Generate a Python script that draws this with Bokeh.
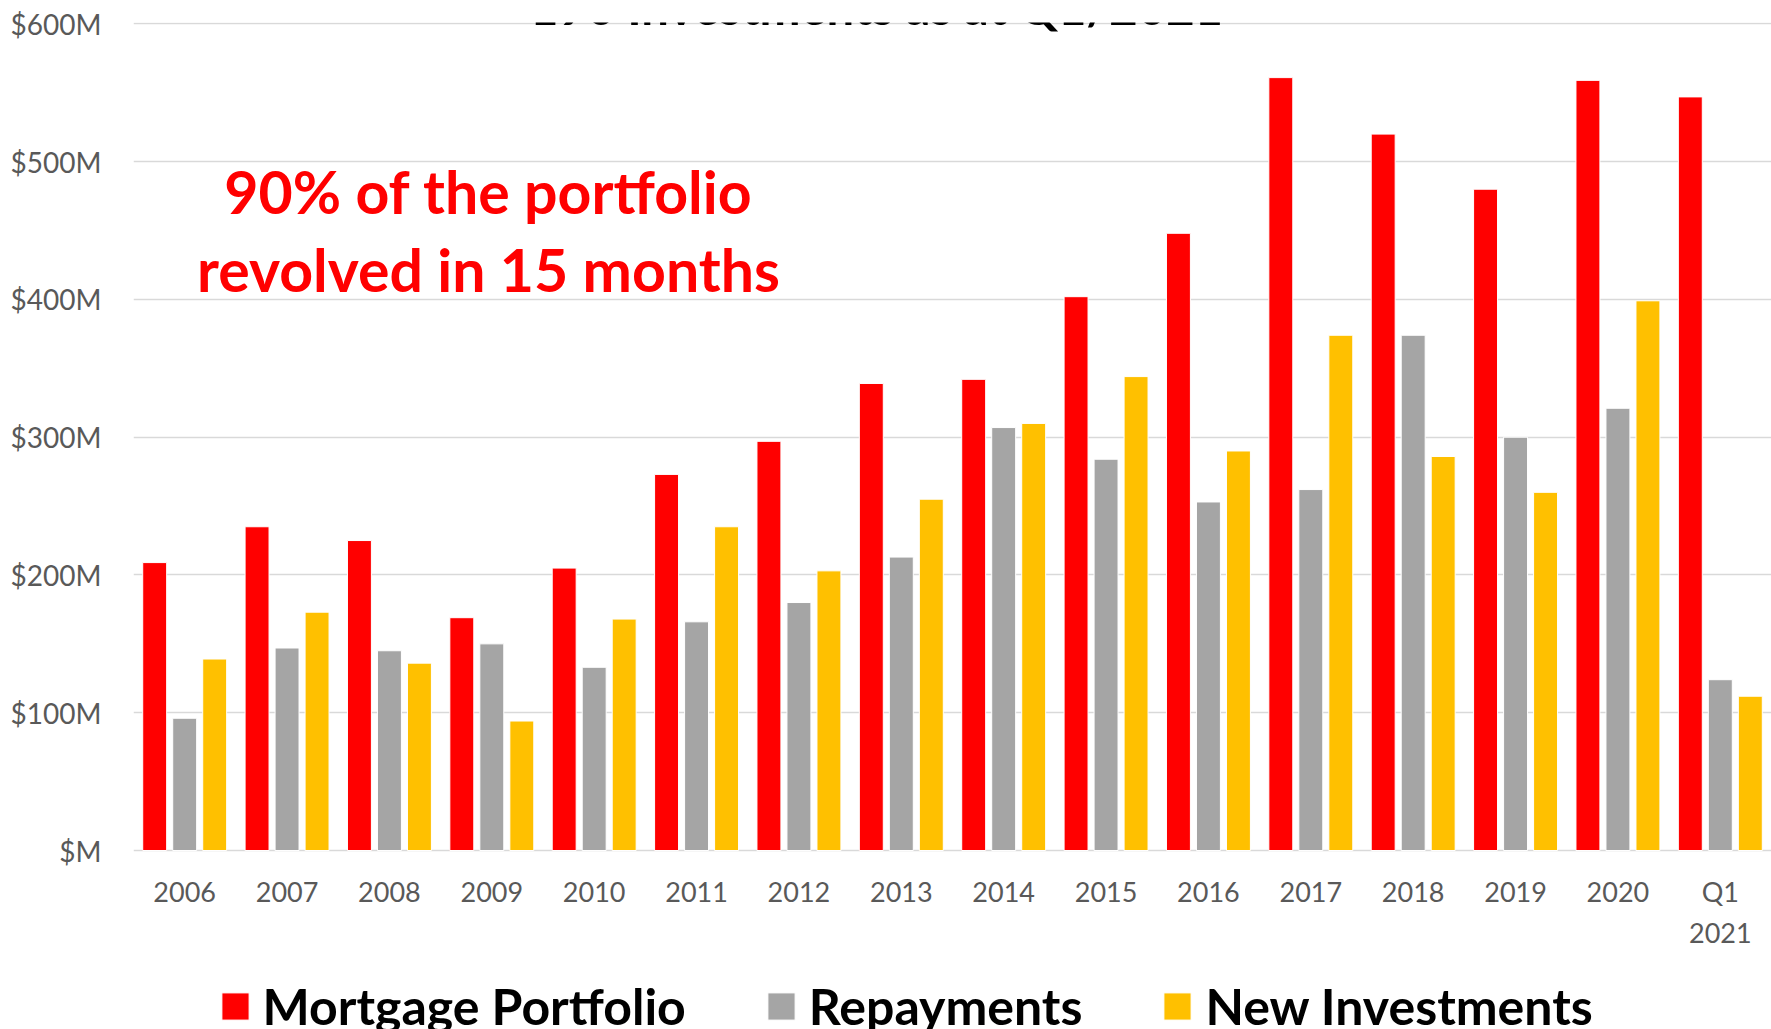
from bokeh.plotting import figure
from bokeh.models import (ColumnDataSource, FactorRange, Range1d, FixedTicker,
                          Label, Legend, LegendItem)
from bokeh.transform import dodge
from bokeh.embed import file_html
from bokeh.resources import INLINE

# ---- data (values in $ millions) ----
categories = ["2006", "2007", "2008", "2009", "2010", "2011", "2012", "2013",
              "2014", "2015", "2016", "2017", "2018", "2019", "2020", "Q1\n2021"]
mortgage_portfolio = [209, 235, 225, 169, 205, 273, 297, 339, 342, 402, 448, 561, 520, 480, 559, 547]
repayments = [96, 147, 145, 150, 133, 166, 180, 213, 307, 284, 253, 262, 374, 300, 321, 124]
new_investments = [139, 173, 136, 94, 168, 235, 203, 255, 310, 344, 290, 374, 286, 260, 399, 112]
y_ticks = [0, 100, 200, 300, 400, 500, 600]
y_tick_labels = ["$M", "$100M", "$200M", "$300M", "$400M", "$500M", "$600M"]
series_names = ["Mortgage Portfolio", "Repayments", "New Investments"]
series_colors = ["#FF0000", "#A5A5A5", "#FFC000"]
title_text = "190 Investments as at Q1/2021"
note_lines = ["90% of the portfolio", "revolved in 15 months"]

source = ColumnDataSource(data=dict(cat=categories, mortgage=mortgage_portfolio,
                                    repay=repayments, newinv=new_investments))

FONT = "Lato"
# the frame runs to the bottom of the canvas so the legend can sit below the x axis
p = figure(width=1771, height=1029, output_backend="svg", toolbar_location=None,
           x_range=FactorRange(*categories, range_padding=0),
           y_range=Range1d(-129.9, 601),
           min_border_left=133, min_border_right=0, min_border_top=22,
           min_border_bottom=0)
p.outline_line_color = None
p.background_fill_color = "white"
p.border_fill_color = "white"

bw = 0.234
off = 0.293
cols = ["mortgage", "repay", "newinv"]
offsets = [-off, 0.0, off]
renderers = []
for c, o, color in zip(cols, offsets, series_colors):
    r = p.vbar(x=dodge("cat", o, range=p.x_range), top=c, bottom=0, width=bw, source=source,
               fill_color=color, line_color="white", line_width=1)
    renderers.append(r)

# axes
p.xaxis.fixed_location = 0
p.yaxis.ticker = FixedTicker(ticks=y_ticks)
p.yaxis.major_label_overrides = {t: l for t, l in zip(y_ticks, y_tick_labels)}
for ax in (p.xaxis, p.yaxis):
    ax.axis_line_color = None
    ax.major_tick_line_color = None
    ax.minor_tick_line_color = None
    ax.major_label_text_font = FONT
    ax.major_label_text_color = "#595959"
p.yaxis.major_label_text_font_size = "28px"
p.xaxis.major_label_text_font_size = "27px"
p.yaxis.major_label_standoff = 26
p.xaxis.major_label_standoff = 18
p.xaxis.major_label_text_line_height = 1.27

p.xgrid.grid_line_color = None
p.ygrid.ticker = FixedTicker(ticks=y_ticks)
p.ygrid.grid_line_color = "#D9D9D9"
p.ygrid.grid_line_width = 1.5

# title (cut off at the top, as in the reference)
p.add_layout(Label(x=743, y=1024, x_units="screen", y_units="screen", text=title_text,
                   text_align="center", text_baseline="alphabetic",
                   text_font=FONT, text_font_style="bold", text_font_size="49px",
                   text_color="black"))

# annotation
for txt, yy in zip(note_lines, [838, 760]):
    p.add_layout(Label(x=355, y=yy, x_units="screen", y_units="screen", text=txt,
                       text_align="center", text_baseline="alphabetic",
                       text_font=FONT, text_font_style="bold", text_font_size="59px",
                       text_color="#FF0000"))

legend = Legend(items=[LegendItem(label=n, renderers=[r]) for n, r in zip(series_names, renderers)],
                orientation="horizontal", location=(84.6, -7),
                glyph_width=34, glyph_height=34, label_standoff=11, spacing=78,
                padding=0, margin=0, border_line_color=None, background_fill_alpha=0,
                label_text_font=FONT, label_text_font_style="bold",
                label_text_font_size="50px", label_text_color="black")
p.add_layout(legend)

open("out.html", "w").write(file_html(p, INLINE))
